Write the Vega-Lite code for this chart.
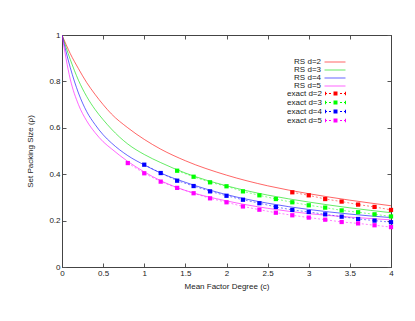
{
  "$schema": "https://vega.github.io/schema/vega-lite/v6.json",
  "width": 329,
  "height": 232,
  "autosize": {"type": "none"},
  "padding": {"left": 62, "top": 35, "right": 24, "bottom": 54},
  "background": "white",
  "config": {
    "font": "Liberation Sans",
    "view": {"stroke": "#444", "strokeWidth": 1},
    "axis": {
      "labelFont": "Liberation Sans",
      "titleFont": "Liberation Sans",
      "labelFontSize": 8,
      "titleFontSize": 8,
      "labelColor": "#222",
      "titleColor": "#222",
      "titleFontWeight": "normal",
      "domainColor": "#444",
      "tickColor": "#555",
      "tickSize": -4,
      "grid": false
    },
    "legend": {
      "labelFont": "Liberation Sans",
      "labelFontSize": 8,
      "labelColor": "#222",
      "padding": 0,
      "orient": "none",
      "labelAlign": "right",
      "labelOffset": -18
    }
  },
  "datasets": {
    "rs": [
      {"c": 0, "rho": 1, "s": "RS d=2"},
      {"c": 0.1, "rho": 0.92, "s": "RS d=2"},
      {"c": 0.2, "rho": 0.855, "s": "RS d=2"},
      {"c": 0.3, "rho": 0.795, "s": "RS d=2"},
      {"c": 0.4, "rho": 0.745, "s": "RS d=2"},
      {"c": 0.5, "rho": 0.70, "s": "RS d=2"},
      {"c": 0.6, "rho": 0.66, "s": "RS d=2"},
      {"c": 0.8, "rho": 0.60, "s": "RS d=2"},
      {"c": 1.0, "rho": 0.55, "s": "RS d=2"},
      {"c": 1.2, "rho": 0.508, "s": "RS d=2"},
      {"c": 1.5, "rho": 0.458, "s": "RS d=2"},
      {"c": 2.0, "rho": 0.396, "s": "RS d=2"},
      {"c": 2.5, "rho": 0.35, "s": "RS d=2"},
      {"c": 3.0, "rho": 0.316, "s": "RS d=2"},
      {"c": 3.5, "rho": 0.288, "s": "RS d=2"},
      {"c": 4.0, "rho": 0.264, "s": "RS d=2"},
      {"c": 0, "rho": 1, "s": "RS d=3"},
      {"c": 0.1, "rho": 0.895, "s": "RS d=3"},
      {"c": 0.2, "rho": 0.805, "s": "RS d=3"},
      {"c": 0.3, "rho": 0.735, "s": "RS d=3"},
      {"c": 0.4, "rho": 0.68, "s": "RS d=3"},
      {"c": 0.5, "rho": 0.635, "s": "RS d=3"},
      {"c": 0.6, "rho": 0.595, "s": "RS d=3"},
      {"c": 0.8, "rho": 0.53, "s": "RS d=3"},
      {"c": 1.0, "rho": 0.485, "s": "RS d=3"},
      {"c": 1.2, "rho": 0.45, "s": "RS d=3"},
      {"c": 1.5, "rho": 0.405, "s": "RS d=3"},
      {"c": 2.0, "rho": 0.35, "s": "RS d=3"},
      {"c": 2.5, "rho": 0.31, "s": "RS d=3"},
      {"c": 3.0, "rho": 0.28, "s": "RS d=3"},
      {"c": 3.5, "rho": 0.255, "s": "RS d=3"},
      {"c": 4.0, "rho": 0.234, "s": "RS d=3"},
      {"c": 0, "rho": 1, "s": "RS d=4"},
      {"c": 0.1, "rho": 0.86, "s": "RS d=4"},
      {"c": 0.2, "rho": 0.75, "s": "RS d=4"},
      {"c": 0.3, "rho": 0.67, "s": "RS d=4"},
      {"c": 0.4, "rho": 0.615, "s": "RS d=4"},
      {"c": 0.5, "rho": 0.57, "s": "RS d=4"},
      {"c": 0.6, "rho": 0.535, "s": "RS d=4"},
      {"c": 0.8, "rho": 0.48, "s": "RS d=4"},
      {"c": 1.0, "rho": 0.44, "s": "RS d=4"},
      {"c": 1.2, "rho": 0.405, "s": "RS d=4"},
      {"c": 1.5, "rho": 0.365, "s": "RS d=4"},
      {"c": 2.0, "rho": 0.312, "s": "RS d=4"},
      {"c": 2.5, "rho": 0.275, "s": "RS d=4"},
      {"c": 3.0, "rho": 0.248, "s": "RS d=4"},
      {"c": 3.5, "rho": 0.228, "s": "RS d=4"},
      {"c": 4.0, "rho": 0.213, "s": "RS d=4"},
      {"c": 0, "rho": 1, "s": "RS d=5"},
      {"c": 0.1, "rho": 0.81, "s": "RS d=5"},
      {"c": 0.2, "rho": 0.70, "s": "RS d=5"},
      {"c": 0.3, "rho": 0.63, "s": "RS d=5"},
      {"c": 0.4, "rho": 0.58, "s": "RS d=5"},
      {"c": 0.5, "rho": 0.54, "s": "RS d=5"},
      {"c": 0.6, "rho": 0.51, "s": "RS d=5"},
      {"c": 0.8, "rho": 0.455, "s": "RS d=5"},
      {"c": 1.0, "rho": 0.41, "s": "RS d=5"},
      {"c": 1.2, "rho": 0.372, "s": "RS d=5"},
      {"c": 1.5, "rho": 0.33, "s": "RS d=5"},
      {"c": 2.0, "rho": 0.285, "s": "RS d=5"},
      {"c": 2.5, "rho": 0.253, "s": "RS d=5"},
      {"c": 3.0, "rho": 0.23, "s": "RS d=5"},
      {"c": 3.5, "rho": 0.215, "s": "RS d=5"},
      {"c": 4.0, "rho": 0.203, "s": "RS d=5"}
    ],
    "ex": [
      {"c": 2.8, "rho": 0.322, "s": "exact d=2"},
      {"c": 3.0, "rho": 0.309, "s": "exact d=2"},
      {"c": 3.2, "rho": 0.293, "s": "exact d=2"},
      {"c": 3.4, "rho": 0.282, "s": "exact d=2"},
      {"c": 3.6, "rho": 0.269, "s": "exact d=2"},
      {"c": 3.8, "rho": 0.259, "s": "exact d=2"},
      {"c": 4.0, "rho": 0.246, "s": "exact d=2"},
      {"c": 1.4, "rho": 0.415, "s": "exact d=3"},
      {"c": 1.6, "rho": 0.389, "s": "exact d=3"},
      {"c": 1.8, "rho": 0.365, "s": "exact d=3"},
      {"c": 2.0, "rho": 0.348, "s": "exact d=3"},
      {"c": 2.2, "rho": 0.326, "s": "exact d=3"},
      {"c": 2.4, "rho": 0.309, "s": "exact d=3"},
      {"c": 2.6, "rho": 0.293, "s": "exact d=3"},
      {"c": 2.8, "rho": 0.279, "s": "exact d=3"},
      {"c": 3.0, "rho": 0.266, "s": "exact d=3"},
      {"c": 3.2, "rho": 0.256, "s": "exact d=3"},
      {"c": 3.4, "rho": 0.244, "s": "exact d=3"},
      {"c": 3.6, "rho": 0.236, "s": "exact d=3"},
      {"c": 3.8, "rho": 0.227, "s": "exact d=3"},
      {"c": 4.0, "rho": 0.218, "s": "exact d=3"},
      {"c": 1.0, "rho": 0.441, "s": "exact d=4"},
      {"c": 1.2, "rho": 0.405, "s": "exact d=4"},
      {"c": 1.4, "rho": 0.372, "s": "exact d=4"},
      {"c": 1.6, "rho": 0.349, "s": "exact d=4"},
      {"c": 1.8, "rho": 0.326, "s": "exact d=4"},
      {"c": 2.0, "rho": 0.307, "s": "exact d=4"},
      {"c": 2.2, "rho": 0.290, "s": "exact d=4"},
      {"c": 2.4, "rho": 0.275, "s": "exact d=4"},
      {"c": 2.6, "rho": 0.259, "s": "exact d=4"},
      {"c": 2.8, "rho": 0.246, "s": "exact d=4"},
      {"c": 3.0, "rho": 0.237, "s": "exact d=4"},
      {"c": 3.2, "rho": 0.227, "s": "exact d=4"},
      {"c": 3.4, "rho": 0.217, "s": "exact d=4"},
      {"c": 3.6, "rho": 0.207, "s": "exact d=4"},
      {"c": 3.8, "rho": 0.200, "s": "exact d=4"},
      {"c": 4.0, "rho": 0.193, "s": "exact d=4"},
      {"c": 0.8, "rho": 0.448, "s": "exact d=5"},
      {"c": 1.0, "rho": 0.404, "s": "exact d=5"},
      {"c": 1.2, "rho": 0.368, "s": "exact d=5"},
      {"c": 1.4, "rho": 0.341, "s": "exact d=5"},
      {"c": 1.6, "rho": 0.318, "s": "exact d=5"},
      {"c": 1.8, "rho": 0.296, "s": "exact d=5"},
      {"c": 2.0, "rho": 0.279, "s": "exact d=5"},
      {"c": 2.2, "rho": 0.261, "s": "exact d=5"},
      {"c": 2.4, "rho": 0.247, "s": "exact d=5"},
      {"c": 2.6, "rho": 0.234, "s": "exact d=5"},
      {"c": 2.8, "rho": 0.223, "s": "exact d=5"},
      {"c": 3.0, "rho": 0.213, "s": "exact d=5"},
      {"c": 3.2, "rho": 0.204, "s": "exact d=5"},
      {"c": 3.4, "rho": 0.194, "s": "exact d=5"},
      {"c": 3.6, "rho": 0.188, "s": "exact d=5"},
      {"c": 3.8, "rho": 0.180, "s": "exact d=5"},
      {"c": 4.0, "rho": 0.172, "s": "exact d=5"}
    ]
  },
  "resolve": {"scale": {"color": "independent"}, "axis": {"x": "independent", "y": "independent"}},
  "layer": [
    {
      "data": {"name": "rs"},
      "mark": {"type": "line", "strokeWidth": 1, "opacity": 0.6, "interpolate": "monotone", "clip": true},
      "encoding": {
        "x": {"field": "c", "type": "quantitative", "scale": {"domain": [0, 4], "nice": false},
          "axis": {"orient": "bottom", "values": [0, 0.5, 1, 1.5, 2, 2.5, 3, 3.5, 4], "labelExpr": "datum.value", "title": "Mean Factor Degree (c)", "labelPadding": 6, "titlePadding": 5, "labelFlush": false}},
        "y": {"field": "rho", "type": "quantitative", "scale": {"domain": [0, 1], "nice": false},
          "axis": {"orient": "left", "values": [0, 0.2, 0.4, 0.6, 0.8, 1], "labelExpr": "datum.value", "title": "Set Packing Size (ρ)", "labelPadding": 6, "titlePadding": 14, "labelFlush": false}},
        "color": {"field": "s", "type": "nominal",
          "scale": {"domain": ["RS d=2", "RS d=3", "RS d=4", "RS d=5"], "range": ["#ff0000", "#00dd00", "#0000ff", "#ff00ff"]},
          "legend": {"title": null, "symbolType": "M-3,0H3", "symbolSize": 49, "symbolStrokeWidth": 1, "symbolOpacity": 0.6, "rowPadding": -2.8, "legendX": 269, "legendY": 23}}
      }
    },
    {
      "data": {"name": "ex"},
      "mark": {"type": "line", "strokeWidth": 1, "opacity": 0.5, "strokeDash": [2, 2]},
      "encoding": {
        "x": {"field": "c", "type": "quantitative", "scale": {"domain": [0, 4], "nice": false},
          "axis": {"orient": "top", "values": [0, 0.5, 1, 1.5, 2, 2.5, 3, 3.5, 4], "labels": false, "title": null}},
        "y": {"field": "rho", "type": "quantitative", "scale": {"domain": [0, 1], "nice": false},
          "axis": {"orient": "right", "values": [0, 0.2, 0.4, 0.6, 0.8, 1], "labels": false, "title": null}},
        "color": {"field": "s", "type": "nominal",
          "scale": {"domain": ["exact d=2", "exact d=3", "exact d=4", "exact d=5"], "range": ["#ff0000", "#00ff00", "#0000ff", "#ff00ff"]},
          "legend": null}
      }
    },
    {
      "data": {"name": "ex"},
      "mark": {"type": "point", "shape": "square", "filled": true, "size": 18, "opacity": 1},
      "encoding": {
        "x": {"field": "c", "type": "quantitative", "axis": null},
        "y": {"field": "rho", "type": "quantitative", "axis": null},
        "color": {"field": "s", "type": "nominal",
          "scale": {"domain": ["exact d=2", "exact d=3", "exact d=4", "exact d=5"], "range": ["#ff0000", "#00ff00", "#0000ff", "#ff00ff"]},
          "legend": {"title": null, "symbolSize": 49, "symbolOpacity": 1, "rowPadding": -3,
            "symbolType": "M-3,-0.14h0.57v0.28h-0.57z M-1.86,-0.14h0.57v0.28h-0.57z M-0.57,-0.57h1.14v1.14h-1.14z M1.29,-0.14h0.57v0.28h-0.57z M2.43,-0.14h0.57v0.28h-0.57z M-3,-0.5h0.3v1h-0.3z M2.7,-0.5h0.3v1h-0.3z",
            "legendX": 269, "legendY": 54}}
      }
    }
  ]
}
